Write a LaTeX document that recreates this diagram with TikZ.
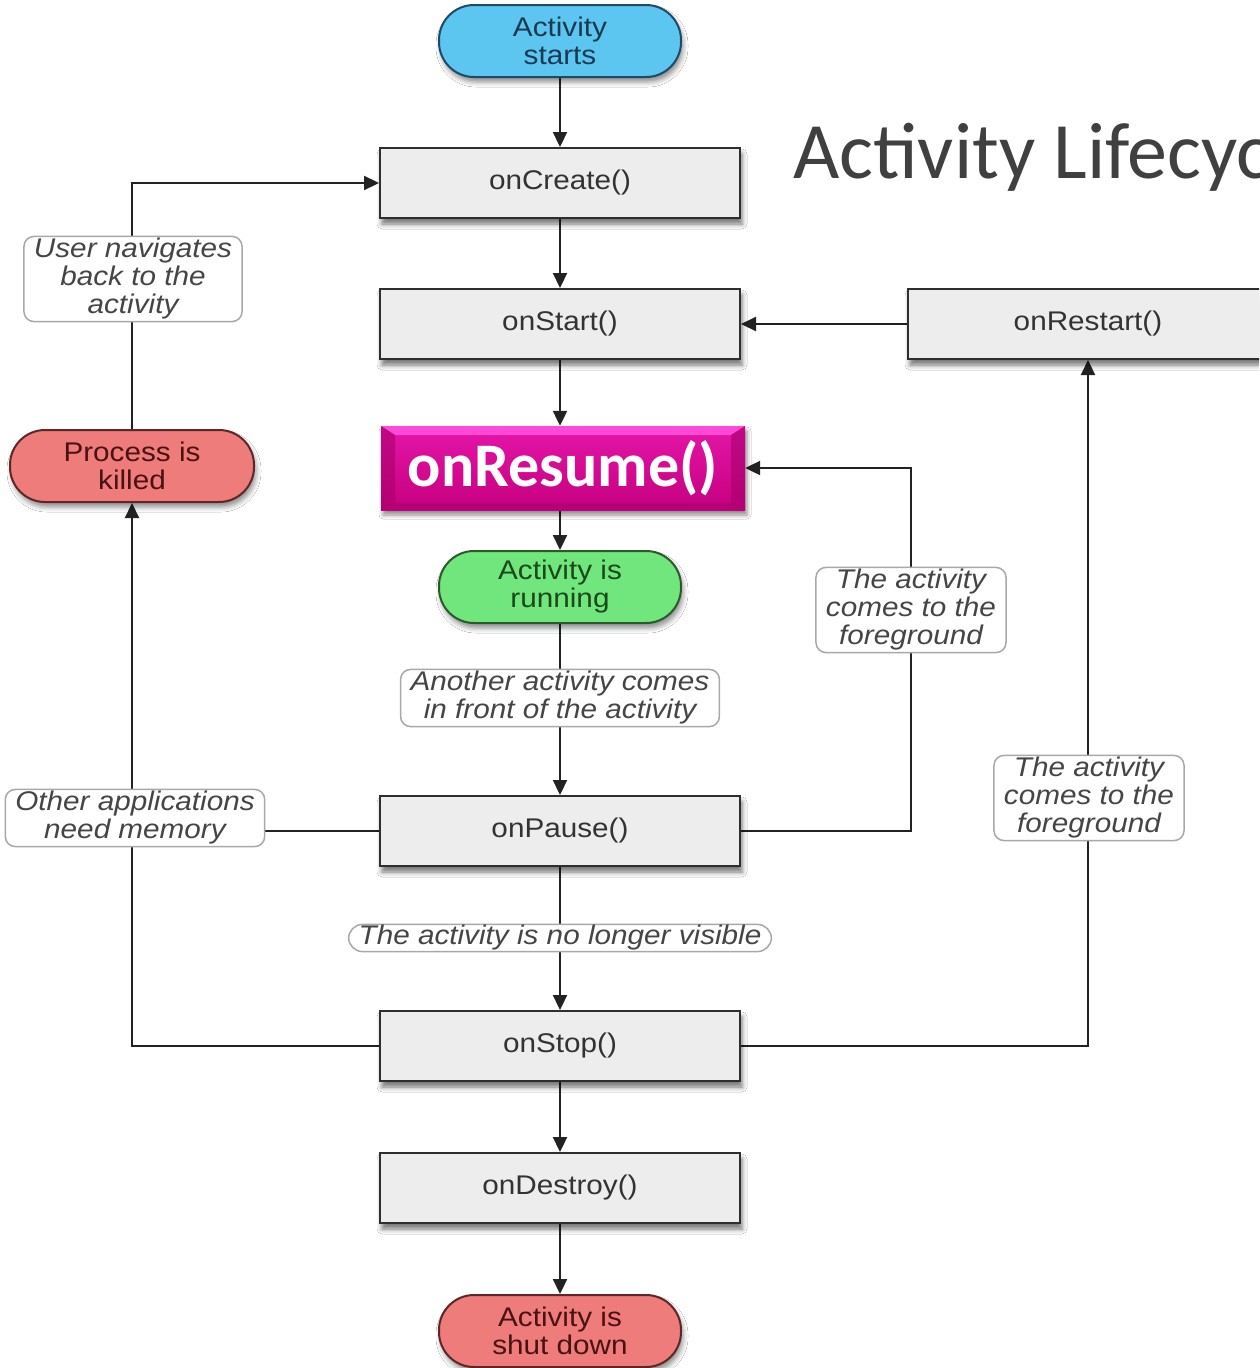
\documentclass[tikz,border=0pt]{standalone}
\usepackage{fontspec}
\setmainfont{Liberation Sans}[FakeStretch=1.1]
\newfontfamily\calibri{Carlito}
\usetikzlibrary{arrows.meta,shadows.blur}
\pgfdeclarelayer{bg}
\pgfsetlayers{bg,main}

\definecolor{boxfill}{HTML}{EDEDED}
\definecolor{boxline}{HTML}{2E2E2E}
\definecolor{txt}{HTML}{333333}
\definecolor{notebd}{HTML}{A8A8A8}
\definecolor{notetxt}{HTML}{454545}
\definecolor{wire}{HTML}{222222}
\definecolor{bluefill}{HTML}{5CC6F0}
\definecolor{blueline}{HTML}{1E4A66}
\definecolor{bluetxt}{HTML}{1A3A52}
\definecolor{greenfill}{HTML}{70E67C}
\definecolor{greenline}{HTML}{2A5A2C}
\definecolor{greentxt}{HTML}{1A4A1C}
\definecolor{redfill}{HTML}{EE7C7A}
\definecolor{redline}{HTML}{5E2626}
\definecolor{redtxt}{HTML}{4A1212}
\definecolor{resTop}{HTML}{E416A8}
\definecolor{resBot}{HTML}{C6007F}
\definecolor{resLight}{HTML}{FF4AD8}
\definecolor{resDark}{HTML}{A8006C}
\definecolor{titlecol}{HTML}{404040}

\tikzset{
  method/.style={draw=boxline, line width=2pt, fill=boxfill,
    minimum width=360pt, minimum height=70pt, inner sep=0pt,
    font=\fontsize{27}{28}\selectfont, text=txt,
    blur shadow={shadow xshift=2pt, shadow yshift=-6pt,
      shadow blur radius=5pt, shadow opacity=55}},
  state/.style={rounded corners=35pt, line width=2pt,
    minimum width=242pt, minimum height=72pt, inner sep=0pt,
    align=center, font=\fontsize{27}{28}\selectfont,
    blur shadow={shadow xshift=2pt, shadow yshift=-5pt,
      shadow blur radius=5pt, shadow opacity=45}},
  bluestate/.style={state, draw=blueline, fill=bluefill, text=bluetxt},
  greenstate/.style={state, draw=greenline, fill=greenfill, text=greentxt},
  redstate/.style={state, draw=redline, fill=redfill, text=redtxt},
  note/.style={draw=notebd, line width=1.5pt, fill=white,
    rounded corners=10pt, align=center, inner xsep=10pt, inner ysep=2pt,
    font=\itshape\fontsize{27}{28}\selectfont, text=notetxt},
  pill/.style={note, rounded corners=14pt, inner ysep=1pt},
  resume/.style={minimum width=364pt, minimum height=84pt, inner sep=0pt,
    top color=resTop, bottom color=resBot, text=white,
    font=\calibri\bfseries\fontsize{62}{62}\selectfont,
    blur shadow={shadow xshift=2pt, shadow yshift=-5pt,
      shadow blur radius=4pt, shadow opacity=45},
    path picture={
      \fill[resLight] (path picture bounding box.north west)
        -- (path picture bounding box.north east)
        -- ([xshift=-14pt,yshift=-9pt]path picture bounding box.north east)
        -- ([xshift=14pt,yshift=-9pt]path picture bounding box.north west) -- cycle;
      \fill[resDark, opacity=0.6] (path picture bounding box.north west)
        -- ([xshift=14pt,yshift=-9pt]path picture bounding box.north west)
        -- ([xshift=14pt,yshift=7pt]path picture bounding box.south west)
        -- (path picture bounding box.south west) -- cycle;
      \fill[resDark, opacity=0.6] (path picture bounding box.north east)
        -- ([xshift=-14pt,yshift=-9pt]path picture bounding box.north east)
        -- ([xshift=-14pt,yshift=7pt]path picture bounding box.south east)
        -- (path picture bounding box.south east) -- cycle;
      \fill[resBot!85!black, opacity=0.5] (path picture bounding box.south west)
        -- ([xshift=14pt,yshift=7pt]path picture bounding box.south west)
        -- ([xshift=-14pt,yshift=7pt]path picture bounding box.south east)
        -- (path picture bounding box.south east) -- cycle;
    }},
  wireline/.style={draw=wire, line width=2.2pt},
  arr/.style={wireline, -{Triangle[length=15pt, width=14pt]}}
}

\begin{document}
\begin{tikzpicture}[x=1pt, y=-1pt]
\useasboundingbox (0,0) rectangle (1259,1368);
\clip (0,0) rectangle (1259,1368);

% title
\node[anchor=base west, inner sep=0pt, text=titlecol,
      font=\calibri\fontsize{80}{80}\selectfont] (title) at (793,178) {Activity Lifecycle};

% main column
\node[bluestate]  (starts)    at (560,41)   {Activity\\starts};
\node[method]     (onCreate)  at (560,183)  {onCreate()};
\node[method]     (onStart)   at (560,324)  {onStart()};
\node[resume]     (onResume)  at (563,468)  {onResume()};
\node[greenstate] (running)   at (560,587)  {Activity is\\running};
\node[method]     (onPause)   at (560,831)  {onPause()};
\node[method]     (onStop)    at (560,1046) {onStop()};
\node[method]     (onDestroy) at (560,1188) {onDestroy()};
\node[redstate]   (shutdown)  at (560,1331) {Activity is\\shut down};

% side nodes
\node[method]     (onRestart) at (1088,324) {onRestart()};
\node[redstate, minimum width=244pt] (killed) at (132,466) {Process is\\killed};

% transition notes
\node[note] (navBack)  at (133,279) {User navigates\\back to the\\activity};
\node[note] (another)  at (560,698) {Another activity comes\\in front of the activity};
\node[note] (fgA)      at (911,610) {The activity\\comes to the\\foreground};
\node[note] (fgB)      at (1089,798) {The activity\\comes to the\\foreground};
\node[note] (memory)   at (135,818) {Other applications\\need memory};
\node[pill] (hidden)   at (560,938) {The activity is no longer visible};

% connectors, kept underneath the boxes and notes
\begin{pgfonlayer}{bg}
  \fill[white] (0,0) rectangle (1259,1368);
  \draw[arr] (starts) -- (onCreate);
  \draw[arr] (onCreate) -- (onStart);
  \draw[arr] (onStart) -- (onStart |- onResume.north);
  \draw[arr] (onStart |- onResume.south) -- (running);
  \draw[arr] (running) -- (onPause);
  \draw[arr] (onPause) -- (onStop);
  \draw[arr] (onStop) -- (onDestroy);
  \draw[arr] (onDestroy) -- (shutdown);
  \draw[arr] (onRestart.west) -- (onStart.east);
  \draw[arr] (onPause.east) -| (fgA.center) |- (onResume.east);
  \draw[arr] (onStop.east) -| (onRestart.south);
  \draw[arr] (onStop.west) -| (killed.south);
  \draw[wireline] (onPause.west) -- (onPause.west -| killed.south);
  \draw[arr] (killed.north) |- (onCreate.west);
\end{pgfonlayer}
\end{tikzpicture}
\end{document}
